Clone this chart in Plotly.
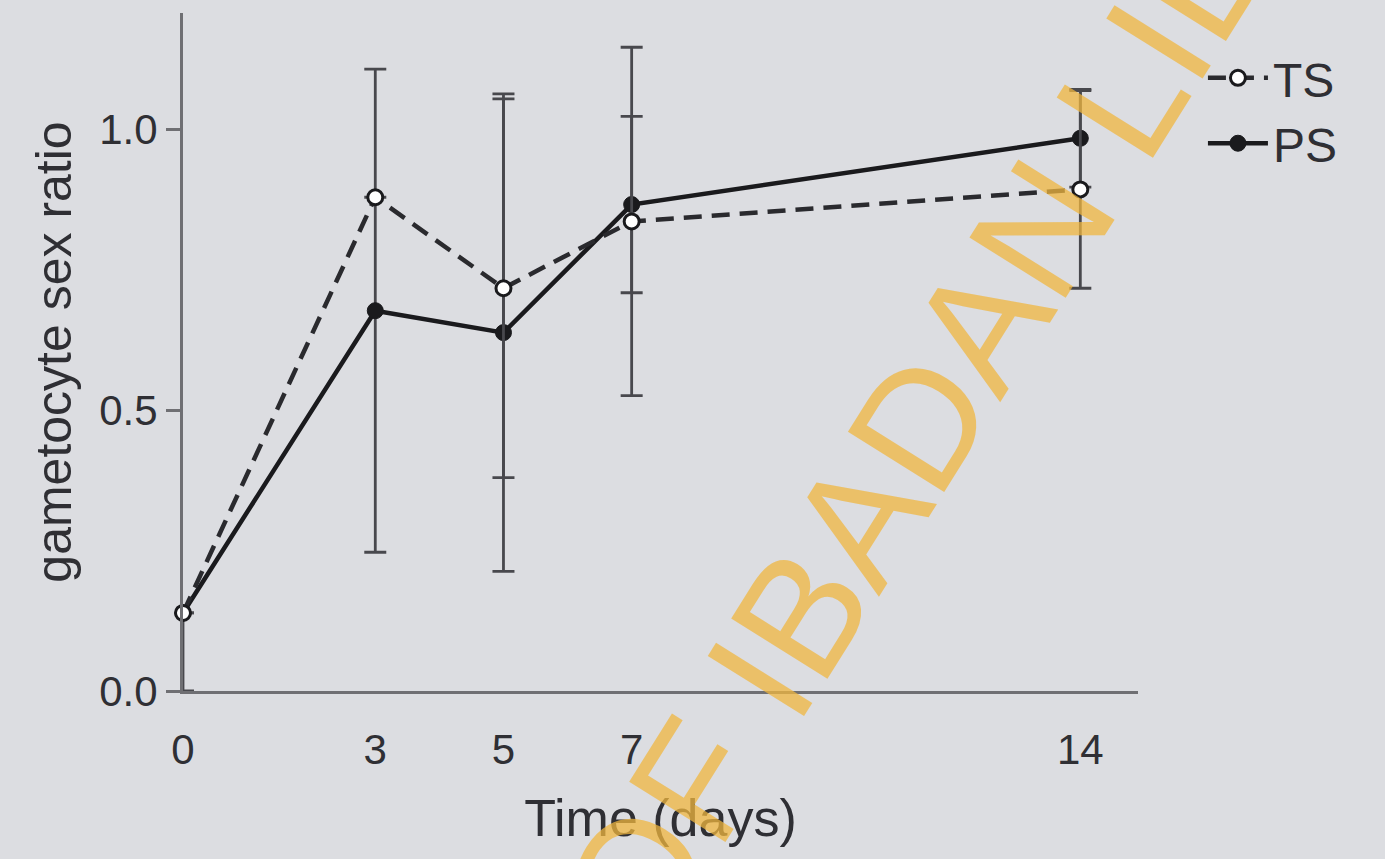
import plotly.graph_objects as go

# Sampling days
days = [0, 3, 5, 7, 14]

# Gametocyte sex ratio, mean per group
ts_ratio = [0.139, 0.879, 0.717, 0.836, 0.893]
ps_ratio = [0.139, 0.677, 0.638, 0.866, 0.984]

# Error bar half-widths (None = not drawn); day 0 bar only reaches down
ts_err_up = [None, None, 0.337, 0.310, 0.176]
ps_err_up = [0.0, 0.430, 0.425, 0.157, 0.087]
ps_err_down = [0.139, 0.430, 0.425, 0.157, 0.087]

x_ticks = [0, 3, 5, 7, 14]
y_ticks = [0.0, 0.5, 1.0]

ink = "#1a1a1d"
bar_gray = "#48484d"
axis_gray = "#6f6f73"
text_col = "#2f2f34"
bg = "#dcdde1"
font_family = "Liberation Sans, Arial, sans-serif"

fig = go.Figure()

fig.add_trace(go.Scatter(
    x=days, y=ps_ratio, name="PS", mode="lines+markers",
    line=dict(color=ink, width=4.5),
    marker=dict(symbol="circle", size=16, color=ink,
                line=dict(color=ink, width=1)),
    error_y=dict(type="data", symmetric=False, array=ps_err_up,
                 arrayminus=ps_err_down, visible=True,
                 color=bar_gray, thickness=2.8, width=11),
    cliponaxis=False,
))

fig.add_trace(go.Scatter(
    x=days, y=ts_ratio, name="TS", mode="lines+markers",
    line=dict(color="#2a2a2e", width=4.5, dash="18px,10px"),
    marker=dict(symbol="circle", size=15, color="white",
                line=dict(color=ink, width=3)),
    error_y=dict(type="data", array=ts_err_up, visible=True,
                 color=bar_gray, thickness=2.8, width=11),
    cliponaxis=False,
))

# Library watermark across the page
fig.add_annotation(
    text="UNIVERSITY OF IBADAN LIBRARY",
    xref="paper", yref="paper",
    x=(762 - 183) / 955, y=(691 - 676) / 678,
    xanchor="center", yanchor="middle",
    textangle=-58, showarrow=False,
    font=dict(family=font_family, size=165, color="rgba(240,182,62,0.74)"),
)

fig.update_layout(
    width=1385, height=859,
    margin=dict(l=183, r=247, t=13, b=168),
    paper_bgcolor=bg, plot_bgcolor=bg,
    font=dict(family=font_family, color=text_col),
    showlegend=True,
    legend=dict(
        x=1.068, y=0.96, xanchor="left", yanchor="top",
        traceorder="reversed", bgcolor="rgba(0,0,0,0)",
        font=dict(size=48, color=text_col), itemwidth=60,
    ),
    xaxis=dict(
        range=[0, 14.9], tickmode="array", tickvals=x_ticks,
        ticktext=[str(v) for v in x_ticks],
        showgrid=False, zeroline=False,
        showline=True, linecolor=axis_gray, linewidth=3,
        ticks="", ticklabelstandoff=20,
        tickfont=dict(size=42, color=text_col),
        title=dict(text="Time (days)", font=dict(size=52, color=text_col), standoff=28),
    ),
    yaxis=dict(
        range=[0, 1.207], tickmode="array", tickvals=y_ticks,
        tickformat=".1f",
        showgrid=False, zeroline=False,
        showline=True, linecolor=axis_gray, linewidth=3,
        ticks="outside", ticklen=14, tickwidth=3, tickcolor=axis_gray,
        tickfont=dict(size=42, color=text_col),
        title=dict(text="gametocyte sex ratio", font=dict(size=50, color=text_col), standoff=12),
    ),
)

fig.write_html("out.html")
